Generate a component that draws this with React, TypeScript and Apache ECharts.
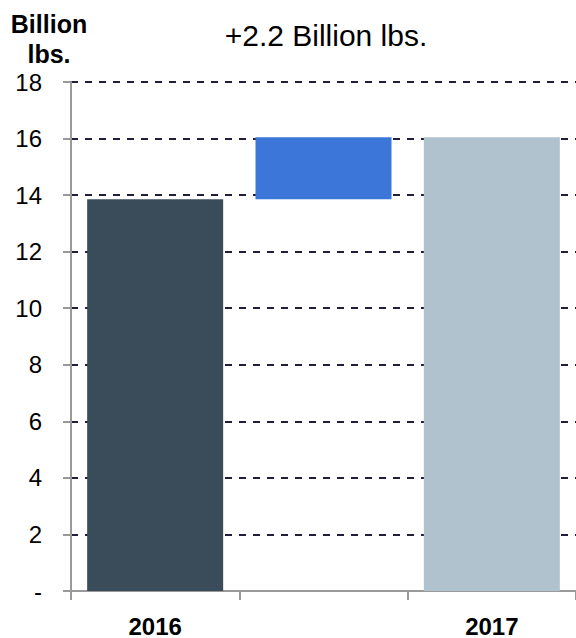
import React, { useEffect, useRef } from "react";
import * as echarts from "echarts";

const categories = ["2016", "", "2017"];
const startValue = 13.85;
const increase = 2.2;
const endValue = 16.05;
const yTicks = { min: 0, max: 18, interval: 2 };
const barColors = ["#3a4b5a", "#3b76d8", "#b0c2cd"];

export default function App() {
  const ref = useRef<HTMLDivElement>(null);
  useEffect(() => {
    if (!ref.current) return;
    const chart = echarts.init(ref.current, undefined, { renderer: "svg" });
    const base = [0, startValue, 0];
    const visible = [startValue, increase, endValue];
    chart.setOption({
      animation: false,
      grid: { left: 71, right: 0, top: 82, bottom: 45, containLabel: false },
      graphic: [
        {
          type: "text",
          x: 49,
          y: 24,
          style: {
            text: "Billion",
            fontFamily: "Liberation Sans, Arial",
            fontWeight: "bold",
            fontSize: 25,
            fill: "#000",
            align: "center",
            verticalAlign: "middle",
          },
        },
        {
          type: "text",
          x: 49,
          y: 54,
          style: {
            text: "lbs.",
            fontFamily: "Liberation Sans, Arial",
            fontWeight: "bold",
            fontSize: 25,
            fill: "#000",
            align: "center",
            verticalAlign: "middle",
          },
        },
        {
          type: "text",
          x: 326,
          y: 35,
          style: {
            text: "+2.2 Billion lbs.",
            fontFamily: "Liberation Sans, Arial",
            fontSize: 30,
            fill: "#000",
            align: "center",
            verticalAlign: "middle",
          },
        },
      ],
      xAxis: {
        type: "category",
        data: categories,
        axisLine: { show: true, lineStyle: { color: "#999", width: 2 } },
        axisTick: { show: true, length: 9, lineStyle: { color: "#999", width: 2 } },
        axisLabel: {
          margin: 23,
          fontFamily: "Liberation Sans, Arial",
          fontWeight: "bold",
          fontSize: 24,
          color: "#000",
        },
      },
      yAxis: {
        type: "value",
        min: yTicks.min,
        max: yTicks.max,
        interval: yTicks.interval,
        axisLine: { show: true, lineStyle: { color: "#999", width: 2 } },
        axisTick: { show: true, length: 8, lineStyle: { color: "#999", width: 2 } },
        axisLabel: {
          margin: 29,
          fontFamily: "Liberation Sans, Arial",
          fontSize: 24,
          color: "#000",
          formatter: (v: number) => (v === 0 ? "-" : String(v)),
        },
        splitLine: {
          show: true,
          lineStyle: { color: "#221d3a", width: 2, type: [7, 7] },
        },
      },
      series: [
        {
          type: "bar",
          stack: "w",
          data: base,
          itemStyle: { color: "transparent" },
          barWidth: 136,
          silent: true,
        },
        {
          type: "bar",
          stack: "w",
          barWidth: 136,
          data: visible.map((v, i) => ({ value: v, itemStyle: { color: barColors[i] } })),
        },
      ],
    });
    return () => chart.dispose();
  }, []);
  return (
    <div
      ref={ref}
      style={{ position: "absolute", left: 0, top: 0, width: 576, height: 638 }}
    />
  );
}
